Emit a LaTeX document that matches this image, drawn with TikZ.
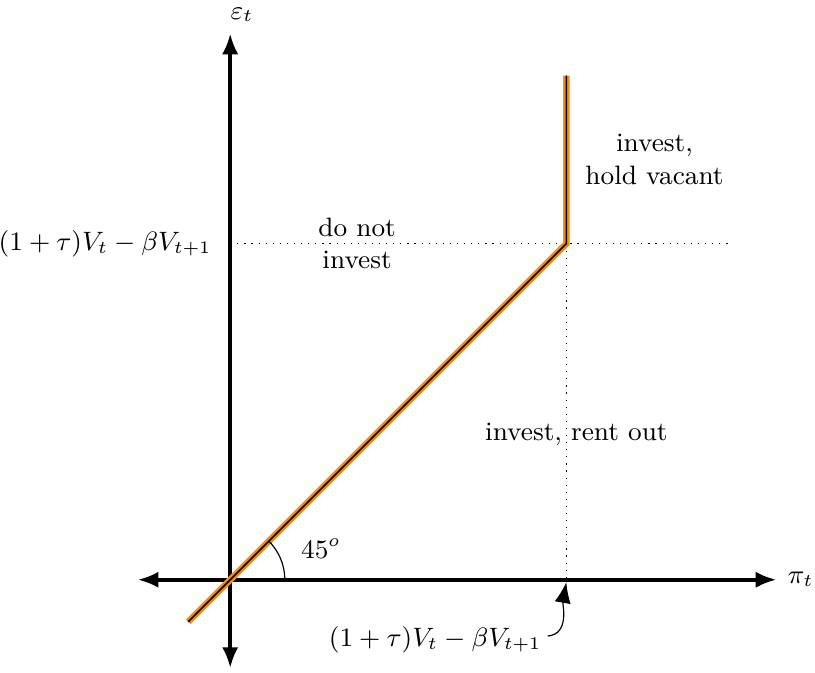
\documentclass[tikz,border=0pt]{standalone}
\usepackage{amsmath,amssymb}
\usetikzlibrary{arrows.meta,calc,positioning}
\definecolor{PolicyOrange}{RGB}{255,140,0}

\begin{document}
\begin{tikzpicture}[>={Latex[length=7pt,width=5.5pt]},every node/.style={font=\small}]
  \useasboundingbox (-2.74,-1.107) rectangle (6.96,6.90);
  % thresholds
  \coordinate (O) at (0,0);
  \coordinate (kink) at (4,4);
  \coordinate (kinkx) at (4,0);
  \coordinate (kinky) at (0,4);
  \coordinate (top) at (4,6);
  \coordinate (low) at (-0.5,-0.5);
  % axes
  \draw[very thick,<->] (-1.1,0) -- (6.5,0) node[right=0pt] (pilab) {$\pi_t$};
  \draw[very thick,<->] (0,-1.05) -- (0,6.5) node[above=0pt,xshift=4pt] (epslab) {$\varepsilon_t$};
  % dotted guides
  \draw[dotted] (kinky) -- (5.95,4);
  \draw[dotted] (kink) -- (kinkx);
  % investment boundary
  \draw[PolicyOrange,line width=2.2pt] (low) -- (kink) -- (top);
  \draw[black,line width=0.5pt] (low) -- (kink) -- (top);
  % angle
  \draw (0.65,0) arc[start angle=0,end angle=45,radius=0.65];
  \node (angle) at (1.08,0.37) {$45^o$};
  % labels
  \node[left] (ylab) at (-0.1,4) {$(1+\tau)V_t-\beta V_{t+1}$};
  \node[align=center] (noinv) at (1.51,4) {do not\\invest};
  \node[align=center] (vacant) at (5.05,5) {invest,\\hold vacant};
  \node (rent) at (4.12,1.73) {invest, rent out};
  \node (xlab) at (2.44,-0.72) {$(1+\tau)V_t-\beta V_{t+1}$};
  \draw[->] ($(xlab.east)+(-0.05,0.05)$) to[out=5,in=-100] ($(kinkx)+(0,-0.03)$);
\end{tikzpicture}
\end{document}
